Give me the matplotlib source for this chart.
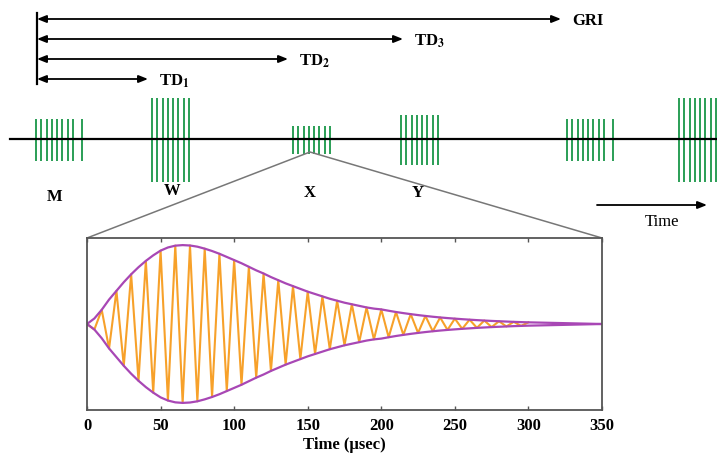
import matplotlib
matplotlib.use('Agg')
import matplotlib.pyplot as plt

# --- pulse train diagram (units: diagram pixels) ---
arrow_labels = [r'TD$_\mathbf{1}$', r'TD$_\mathbf{2}$', r'TD$_\mathbf{3}$', 'GRI']
arrow_ends = [148, 288, 403, 561]
arrow_rows = [79, 59, 39, 19]

group_names = ['M', 'W', 'X', 'Y', '', '']
group_starts = [36, 152, 293, 401, 567, 679]
group_heights = [21, 42, 14, 25, 21, 42]
group_pulses = [9, 8, 8, 8, 9, 8]
label_pos = [(55, 197), (172, 191), (310, 193), (418, 193)]

# --- Loran-C pulse, envelope read every 5 usec ---
pulse_t = list(range(0, 305, 5))
envelope = [0, 0.07, 0.18, 0.31, 0.42, 0.53, 0.63, 0.72, 0.80, 0.87,
            0.93, 0.97, 0.993, 1.0, 0.995, 0.98, 0.955, 0.925, 0.89, 0.85,
            0.81, 0.77, 0.725, 0.68, 0.64, 0.595, 0.555, 0.515, 0.48, 0.445,
            0.41, 0.38, 0.35, 0.32, 0.295, 0.27, 0.25, 0.23, 0.21, 0.195,
            0.185, 0.168, 0.152, 0.138, 0.125, 0.113, 0.102, 0.092, 0.083, 0.075,
            0.068, 0.061, 0.055, 0.049, 0.044, 0.039, 0.035, 0.031, 0.027, 0.024,
            0.021]
t_end = 350

plt.rcParams['mathtext.fontset'] = 'stix'
serif = 'Liberation Serif'

W, H = 717, 458
fig = plt.figure(figsize=(W / 100, H / 100), dpi=100)
bg = fig.add_axes([0, 0, 1, 1])
bg.set_xlim(0, W)
bg.set_ylim(H, 0)
bg.axis('off')

# delay arrows
bg.plot([37, 37], [13, 84], color='k', lw=1.6)
for lab, xe, y in zip(arrow_labels, arrow_ends, arrow_rows):
    bg.annotate('', xy=(xe, y), xytext=(37, y),
                arrowprops=dict(arrowstyle='<|-|>,head_length=0.55,head_width=0.22',
                                lw=1.3, color='k', shrinkA=0, shrinkB=0))
    bg.text(xe + 11, y + 2, lab, fontsize=12, fontweight='bold', family=serif,
            va='center', ha='left')

# baseline and pulse groups
bg.plot([10, W], [139, 139], color='k', lw=1.6, zorder=3)
for start, h, n in zip(group_starts, group_heights, group_pulses):
    xs = [start + 5.25 * i for i in range(8)]
    if n == 9:
        xs.append(start + 45.5)
    bg.vlines(xs, 140 - h, 140 + h, color='#2A9E55', lw=1.4, zorder=2)
for name, (x, y) in zip(group_names, label_pos):
    bg.text(x, y, name, fontsize=12, fontweight='bold', family=serif,
            ha='center', va='center')

# time arrow
bg.annotate('', xy=(707, 205), xytext=(597, 205),
            arrowprops=dict(arrowstyle='-|>,head_length=0.55,head_width=0.22',
                            lw=1.3, color='k', shrinkA=0, shrinkB=0))
bg.text(662, 222, 'Time', fontsize=12, family=serif, ha='center', va='center')

# zoom lines
bg.plot([87, 310, 602], [238, 152, 238], color='#777777', lw=1.1)

# --- pulse detail axes ---
ax = fig.add_axes([87 / W, (H - 410) / H, 515 / W, 172 / H])
sign = [1 if i % 2 == 0 else -1 for i in range(len(envelope))]
carrier = [a * s for a, s in zip(envelope, sign)]
ax.plot(pulse_t, carrier, color='#F7A12A', lw=1.5, solid_joinstyle='round')
env_t = pulse_t + [t_end]
env_up = envelope + [0]
ax.plot(env_t, env_up, color='#A847B5', lw=1.6)
ax.plot(env_t, [-v for v in env_up], color='#A847B5', lw=1.6)
ax.set_xlim(0, 350)
ax.set_ylim(-1.09, 1.09)
ax.set_yticks([])
ax.set_xticks(range(0, 351, 50))
ax.tick_params(axis='x', direction='in', top=True, length=3, color='#555555',
               width=1, pad=6)
for lab in ax.get_xticklabels():
    lab.set_family(serif)
    lab.set_fontweight('bold')
    lab.set_fontsize(12)
for sp in ax.spines.values():
    sp.set_color('#555555')
    sp.set_linewidth(1.3)
ax.set_xlabel('Time (\u00b5sec)', fontsize=12, fontweight='bold', family=serif,
              labelpad=2)

fig.savefig('out.png', dpi=100)
